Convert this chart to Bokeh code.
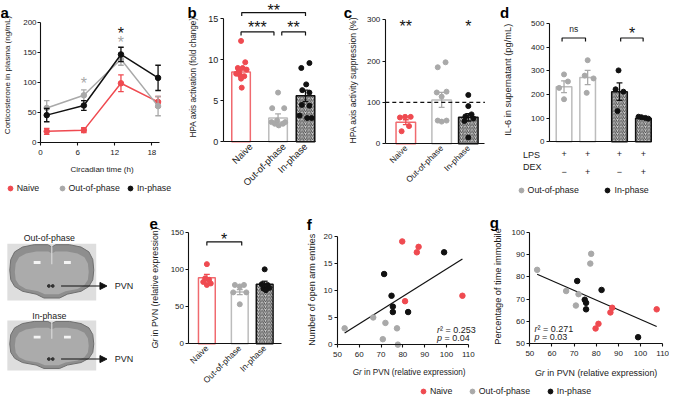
import math
import numpy as np
from bokeh.plotting import figure
from bokeh.models import (Range1d, FixedTicker, Label, Legend, LegendItem, Arrow,
                          NormalHead, LinearAxis)
from bokeh.layouts import row, column
from bokeh.embed import file_html
from bokeh.resources import INLINE
from bokeh.core.properties import value

# ======================= data =======================
groups = ["Naive", "Out-of-phase", "In-phase"]

# (a) plasma corticosterone over circadian time (mean, SEM)
ct_hours = [1, 7, 13, 19]
ct_ticks = [0, 6, 12, 18]
cort_ticks = [0, 50, 100, 150, 200]
cort_naive_mean = [19, 21, 99, 68]
cort_naive_sem = [5, 4, 14, 9]
cort_out_mean = [58, 79, 139, 61]
cort_out_sem = [12, 9, 10, 16]
cort_in_mean = [46, 62, 147, 108]
cort_in_sem = [11, 8, 12, 21]

# (b) HPA axis activation (fold change)
act_ticks = [0, 5, 10, 15]
act_mean = [8.5, 2.9, 5.6]
act_sem = [0.45, 0.5, 0.7]
act_naive = [12.3, 9.7, 9.0, 9.0, 8.8, 8.6, 8.3, 8.1, 8.0, 7.7, 6.6]
act_out = [6.0, 4.1, 4.1, 2.6, 2.4, 2.2, 2.0, 2.2, 2.4]
act_in = [9.6, 9.0, 7.0, 6.3, 6.0, 4.5, 4.4, 3.2, 2.9, 2.9]
# horizontal scatter of the dots around each bar (px)
act_naive_jit = [0, 4.3, -3.3, 1.7, 5.7, -2.3, -5, -1, 3.3, 0, 0.7]
act_out_jit = [0, -6, 6.3, -1, -6.7, -3.3, 0.7, 5, 7.3]
act_in_jit = [4, -4.3, 0.7, -3.3, 4, -3.7, 4, -6, 1.7, 6.3]

# (c) HPA axis activity suppression (%)
sup_ticks = [0, 100, 200, 300]
sup_ref = 100
sup_mean = [52, 106, 64]
sup_sem = [6, 18, 9]
sup_naive = [63.5, 65, 65, 42.6, 30.2]
sup_out = [185, 197, 124, 126, 114, 56, 56, 53.5]
sup_in = [118, 91, 71, 66, 61, 55, 15]
sup_naive_jit = [-6, -0.7, 5, 3.3, -4.3]
sup_out_jit = [-4, 4, -5, 5, 0, -4, 5, 0]
sup_in_jit = [0, 0, 3.3, -3, 5.3, -4, 0]

# (d) IL-6 in supernatant (pg/mL)
il6_ticks = [0, 100, 200, 300, 400, 500]
il6_group = ["Out-of-phase", "Out-of-phase", "In-phase", "In-phase"]
il6_lps = ["+", "+", "+", "+"]
il6_dex = ["\u2212", "+", "\u2212", "+"]
il6_mean = [233, 272, 212, 100]
il6_sem = [25, 30, 37, 3]
il6_points = [[285, 255, 228, 180], [345, 280, 268, 207],
              [302, 222, 212, 130], [106, 104, 101, 98]]
il6_jit = [[0, 4, -5, 0], [0, -3, 6, -1], [-1, -4, 4, -2], [-5, -2, 2, 5]]

# (e) Gr in PVN (relative expression)
gr_ticks = [0, 50, 100, 150]
gr_mean = [88.8, 69.4, 80]
gr_sem = [4.5, 3.5, 4]
gr_naive = [107, 88, 86, 83, 81, 79]
gr_out = [79, 79, 77, 69, 69, 53]
gr_in = [100, 80, 79, 75, 74, 72]
gr_naive_jit = [0, -1.7, 2.3, -3.7, 4, 0]
gr_out_jit = [-5, 4.3, 0, -6.7, 6.7, 0]
gr_in_jit = [0, -3, 3, 4.7, -1.3, 1.3]

# (f, g) per-animal Gr expression vs behaviour
gr_pvn_naive = [79.7, 81.0, 86.4, 87.2, 107.3]
gr_pvn_out = [53.3, 66.4, 70.8, 72.0, 77.3, 77.7]
gr_pvn_in = [71.4, 74.8, 75.4, 75.4, 82.4, 98.9]
open_arm_naive = [19, 8, 17, 18, 9]
open_arm_out = [3, 5, 1, 4, 3, 0]
open_arm_in = [13, 9, 7, 6, 6, 17]
immobile_naive = [56.8, 58.9, 64.0, 66.1, 65.4]
immobile_out = [83.1, 73.6, 67.1, 72.2, 85.9, 90.3]
immobile_in = [78.1, 69.7, 68.3, 65.4, 74.1, 52.9]
gr_x_ticks = [50, 60, 70, 80, 90, 100, 110]
open_arm_ticks = [0, 5, 10, 15, 20]
immobile_ticks = [50, 60, 70, 80, 90, 100]
f_r2, f_p = "0.253", "0.04"
g_r2, g_p = "0.271", "0.03"

# ======================= style =======================
FONT = "Liberation Sans"
TXT = "#1a1a1a"
RED = "#ef4a50"
RED_BAR = "#f06a6f"
GRAY = "#a9a9a9"
GRAY_BAR = "#bcbcbc"
BLACK = "#111111"
HATCH_FILL = "#cfcfcf"
HATCH_COL = "#262626"
GROUP_DOT = [RED, GRAY, BLACK]
GROUP_LINE = [RED_BAR, GRAY_BAR, BLACK]

SX = 669 / 685
SY = 397 / 413


def X(v):
    return int(round(v * SX))


def Y(v):
    return int(round(v * SY))


def _lin(La, da, Lb, db):
    return lambda L: da + (L - La) * (db - da) / (Lb - La)


class Panel:
    """A figure whose plotting area covers its whole canvas; the axes sit at
    fixed data locations, so texts outside the axes stay inside the frame."""

    def __init__(self, box, xmap, ymap, axes=True, tick_size=8):
        x0, y0, x1, y1 = box
        self.x0, self.y0 = x0, y0
        self.W = X(x1) - X(x0)
        self.H = Y(y1) - Y(y0)
        (ra, da), (rb, db) = xmap
        fx = _lin(ra * SX - X(x0), da, rb * SX - X(x0), db)
        (ra, da), (rb, db) = ymap
        fy = _lin(ra * SY - Y(y0), da, rb * SY - Y(y0), db)
        extra = {} if axes else dict(x_axis_location=None, y_axis_location=None)
        self.p = figure(width=self.W, height=self.H,
                        x_range=Range1d(fx(0), fx(self.W)),
                        y_range=Range1d(fy(self.H), fy(0)),
                        output_backend="svg", toolbar_location=None, title=None,
                        min_border=0, **extra)
        p = self.p
        p.grid.visible = False
        p.outline_line_color = None
        p.border_fill_color = "white"
        p.background_fill_color = "white"
        if axes:
            for ax in p.axis:
                ax.axis_line_color = BLACK
                ax.axis_line_width = 1.1
                ax.major_tick_line_color = BLACK
                ax.major_tick_line_width = 1.1
                ax.major_tick_out = 3
                ax.major_tick_in = 0
                ax.minor_tick_line_color = None
                ax.major_label_text_font = FONT
                ax.major_label_text_font_size = f"{tick_size}px"
                ax.major_label_text_color = TXT
                ax.major_label_standoff = 2

    def axes_at(self, x_at, y_at, xb, yb, xticks=None, yticks=None):
        p = self.p
        p.yaxis.fixed_location = x_at
        p.xaxis.fixed_location = y_at
        p.xaxis.bounds = xb
        p.yaxis.bounds = yb
        if xticks is not None:
            p.xaxis.ticker = FixedTicker(ticks=xticks)
        if yticks is not None:
            p.yaxis.ticker = FixedTicker(ticks=yticks)

    def sx(self, xr):
        return xr * SX - X(self.x0)

    def sy(self, yr):
        return self.H - (yr * SY - Y(self.y0))

    def text(self, xr, yr, txt, size=8.5, align="left", baseline="middle",
             angle=0.0, style="normal", color=TXT, dx=0.0, dy=0.0):
        self.p.add_layout(Label(x=self.sx(xr) + dx, y=self.sy(yr) + dy,
                                x_units="screen", y_units="screen", text=txt,
                                text_font=FONT, text_font_size=f"{size}px",
                                text_font_style=style, text_align=align,
                                text_baseline=baseline, angle=angle,
                                text_color=color))

    def letter(self, t, xr, yr):
        self.text(xr, yr, t, size=15, baseline="alphabetic", style="bold", color="black")

    def ylabel(self, txt, cx, cy, size):
        self.text(cx, cy, txt, size=size, align="center", angle=math.pi / 2)

    def xlabel(self, txt, cx, cy, size):
        self.text(cx, cy, txt, size=size, align="center")

    def gr_label(self, cx, cy, size, vertical=False):
        total = 13.781 * size
        shift = 1.389 * size
        parts = (("Gr", 0, "italic"), ("in PVN (relative expression)", shift, "normal"))
        for txt, off, st in parts:
            if vertical:
                lab = Label(x=self.sx(cx), y=self.sy(cy) - total / 2 + off,
                            angle=math.pi / 2)
            else:
                lab = Label(x=self.sx(cx) - total / 2 + off, y=self.sy(cy))
            lab.update(x_units="screen", y_units="screen", text=txt, text_font=FONT,
                       text_font_size=f"{size}px", text_font_style=st,
                       text_align="left", text_baseline="middle", text_color=TXT)
            self.p.add_layout(lab)

    def stats(self, xr, yr1, yr2, r2, pv, size=9):
        self.text(xr, yr1, "r", size=size, style="italic")
        self.text(xr, yr1, "\u00b2 = " + r2, size=size, dx=0.333 * size)
        self.text(xr, yr2, "p", size=size, style="italic")
        self.text(xr, yr2, "= " + pv, size=size, dx=0.834 * size)

    def star(self, x, y, txt, color=BLACK, size=16):
        self.p.add_layout(Label(x=x, y=y, text=txt, text_font=FONT,
                                text_font_size=f"{size}px", text_align="center",
                                text_baseline="middle", text_color=color,
                                y_offset=-0.25 * size))

    def legend(self, label, renderer, cx, cy, size=8.8):
        lg = Legend(items=[LegendItem(label=label, renderers=[renderer])],
                    location=(self.sx(cx) - 6, self.sy(cy) - 6),
                    orientation="horizontal", glyph_width=12, glyph_height=12,
                    label_height=12, label_width=0, label_standoff=1,
                    padding=0, margin=0, spacing=0, border_line_color=None,
                    background_fill_alpha=0, label_text_font=FONT,
                    label_text_font_size=f"{size}px", label_text_color=TXT)
        self.p.add_layout(lg)


def cat_axis(p, label_at, names, size=8.5):
    ax = p.xaxis[0]
    ax.ticker = FixedTicker(ticks=label_at)
    ax.major_label_overrides = {c: n for c, n in zip(label_at, names)}
    ax.major_label_orientation = math.pi / 4
    ax.major_tick_line_color = None
    ax.major_tick_out = 0
    ax.major_label_standoff = 3
    ax.major_label_text_font_size = f"{size}px"


def bars(P, centers, width, means, sems, pts, jits, line_cols, dot_cols, hatched, cap=0.3):
    p = P.p
    for c, m, lc, h in zip(centers, means, line_cols, hatched):
        if h:
            kw = dict(fill_color=HATCH_FILL, hatch_pattern="right_diagonal_line",
                      hatch_color=HATCH_COL, hatch_scale=3.5, hatch_weight=0.8)
        else:
            kw = dict(fill_color="white")
        p.vbar(x=[c], top=[m], bottom=0, width=width, line_color=lc, line_width=1.5, **kw)
    rends = []
    for c, vals, jit, dc in zip(centers, pts, jits, dot_cols):
        rends.append(p.scatter([c + j / 10 for j in jit], vals, size=5, color=dc, line_color=dc))
    for c, m, s, dc in zip(centers, means, sems, dot_cols):
        p.segment([c], [m - s], [c], [m + s], line_color=dc, line_width=1.3)
        p.segment([c - cap, c - cap], [m + s, m - s], [c + cap, c + cap], [m + s, m - s],
                  line_color=dc, line_width=1.3)
    return rends


def bracket(p, x0, x1, y, leg):
    p.multi_line(xs=[[x0, x0, x1, x1]], ys=[[y - leg, y, y, y - leg]],
                 line_color=BLACK, line_width=1.2)


# ======================= (a) =======================
A = Panel((0, 0, 190, 212), ((41, 0), (155, 18)), ((148, 0), (23, 200)))
A.axes_at(0, 0, (0, 19.3), (0, 200), ct_ticks, cort_ticks)
p = A.p
p.xaxis.major_label_standoff = 4
p.yaxis.major_label_standoff = 1
a_rends = []
for mean, sem, col in ((cort_naive_mean, cort_naive_sem, RED),
                       (cort_out_mean, cort_out_sem, GRAY),
                       (cort_in_mean, cort_in_sem, BLACK)):
    lo = [m - s for m, s in zip(mean, sem)]
    hi = [m + s for m, s in zip(mean, sem)]
    xl = [t - 0.45 for t in ct_hours]
    xr_ = [t + 0.45 for t in ct_hours]
    p.segment(ct_hours, lo, ct_hours, hi, line_color=col, line_width=1.3)
    p.segment(xl, hi, xr_, hi, line_color=col, line_width=1.3)
    p.segment(xl, lo, xr_, lo, line_color=col, line_width=1.3)
    p.line(ct_hours, mean, line_color=col, line_width=1.5)
    a_rends.append(p.scatter(ct_hours, mean, size=5.5, color=col))
A.star(7, 106, "*", GRAY)
A.star(13, 173, "*", GRAY)
A.star(13, 189, "*", BLACK)
A.ylabel("Corticosterone in plasma (ng/mL)", 7.5, 77.5, 8)
A.xlabel("Circadian time (h)", 104, 175.5, 8)
A.letter("a", 0, 12.5)
A.legend(groups[0], a_rends[0], 10, 196)
A.legend(groups[1], a_rends[1], 63, 196)
A.legend(groups[2], a_rends[2], 133, 196)

# ======================= (b) =======================
B = Panel((190, 0, 350, 212), ((228, 0), (323, 9.5)), ((147, 0), (19, 15)), tick_size=9)
B.axes_at(0, 0, (0, 9.5), (0, 15), None, act_ticks)
p = B.p
b_centers = [1.83, 5.62, 8.43]
b_label_shift = [1.0, 0.6, 0.0]
cat_axis(p, [c + s for c, s in zip(b_centers, b_label_shift)], groups, size=9.5)
bars(B, b_centers, 1.9, act_mean, act_sem, [act_naive, act_out, act_in],
     [act_naive_jit, act_out_jit, act_in_jit], GROUP_LINE, GROUP_DOT, [False, False, True])
bracket(p, 1.83, 5.2, 13.4, 0.45)
bracket(p, 6.0, 8.43, 13.4, 0.45)
bracket(p, 1.9, 8.43, 15.75, 0.4)
B.star(3.5, 14.4, "***")
B.star(7.2, 14.4, "**")
B.star(5.17, 16.5, "**")
B.ylabel("HPA axis activation (fold change)", 198, 80, 8.2)
B.letter("b", 191.5, 13)

# ======================= (c) =======================
C = Panel((350, 0, 510, 212), ((394, 0), (496, 10.2)), ((149, 0), (20, 300)))
c_xend = 10.2
C.axes_at(0, 0, (0, c_xend), (0, 300), None, sup_ticks)
p = C.p
c_centers = [2.1, 5.77, 8.5]
cat_axis(p, c_centers, groups, size=8.3)
bars(C, c_centers, 2.0, sup_mean, sup_sem, [sup_naive, sup_out, sup_in],
     [sup_naive_jit, sup_out_jit, sup_in_jit], GROUP_LINE, GROUP_DOT, [False, False, True])
p.line([0, c_xend], [sup_ref, sup_ref], line_color=BLACK, line_width=1.4, line_dash="4 3")
C.star(2.1, 294, "**")
C.star(8.5, 294, "*")
C.ylabel("HPA axis activity suppression (%)", 361, 83, 8.5)
C.letter("c", 351.5, 12.7)

# ======================= (d) =======================
D = Panel((510, 0, 685, 212), ((562, 0), (667, 10.5)), ((147, 0), (24, 500)))
D.axes_at(0, 0, (0, 10.5), (0, 500), None, il6_ticks)
p = D.p
d_centers = [1.5, 3.92, 7.18, 9.63]
ax = p.xaxis[0]
ax.ticker = FixedTicker(ticks=d_centers)
ax.major_label_overrides = {c: t for c, t in zip(d_centers, il6_lps)}
ax.major_tick_line_color = None
ax.major_tick_out = 0
ax.major_label_standoff = 9
ax.major_label_text_font_size = "9px"
ax2 = LinearAxis(ticker=FixedTicker(ticks=d_centers), fixed_location=0, bounds=(0, 10.5),
                 major_label_overrides={c: t for c, t in zip(d_centers, il6_dex)},
                 axis_line_color=None, major_tick_line_color=None,
                 minor_tick_line_color=None, major_label_standoff=21,
                 major_label_text_font=FONT, major_label_text_font_size="9px",
                 major_label_text_color=TXT)
p.add_layout(ax2, "below")
d_line = [GRAY_BAR if g == "Out-of-phase" else BLACK for g in il6_group]
d_dot = [GRAY if g == "Out-of-phase" else BLACK for g in il6_group]
d_rends = bars(D, d_centers, 1.6, il6_mean, il6_sem, il6_points, il6_jit, d_line, d_dot,
               [g == "In-phase" for g in il6_group], cap=0.3)
bracket(p, 1.3, 3.7, 439, 15)
bracket(p, 7.3, 9.6, 439, 15)
D.p.add_layout(Label(x=2.5, y=478, text="ns", text_font=FONT, text_font_size="8.5px",
                     text_align="center", text_baseline="middle", text_color=TXT))
D.star(8.47, 473, "*")
D.ylabel("IL-6 in supernatant (pg/mL)", 519.5, 82.5, 9.3)
D.text(535, 161, "LPS", size=9)
D.text(535, 173, "DEX", size=9)
D.letter("d", 511.5, 12.7)
D.legend(groups[1], d_rends[0], 533, 198)
D.legend(groups[2], d_rends[2], 622, 198)

# ======================= brain sections =======================
BR = Panel((0, 212, 150, 413), ((0, 0), (150, 150)), ((212, 212), (413, 413)), axes=False)
p = BR.p
section_dx = [-43, -42, -38, -30, -18, -4, 0, 4, 18, 30, 38, 42, 43, 42, 38, 30, 16, 8, -8, -16, -30, -38, -42]
section_dy = [-2, -13, -21, -26, -28.5, -28.5, -26, -28.5, -28.5, -26, -21, -13, -2, 8, 15, 20, 23, 27, 27, 23, 20, 15, 8]
for title, cx, cy, h, ty, ay in (("Out-of-phase", 52.5, 282.5, 59, 247, 297),
                                 ("In-phase", 52.5, 359, 52, 328, 373)):
    k = h / 59.0
    p.rect(x=[cx], y=[cy], width=91, height=h, fill_color="#dedede", line_color=None)
    p.patch([cx + d for d in section_dx], [cy + d * k for d in section_dy],
            fill_color="#8e8e8e", line_color="#6f6f6f", line_width=1)
    p.patch([cx + d * 0.88 for d in section_dx], [cy + 1.5 + d * k * 0.8 for d in section_dy],
            fill_color="#ababab", line_color=None)
    p.line([cx, cx], [cy - 27 * k, cy - 8 * k], line_color="#d8d8d8", line_width=1.2)
    p.rect(x=[cx - 15, cx + 16], y=[cy - 10 * k, cy - 10 * k], width=7, height=3,
           fill_color="#f4f4f4", line_color=None)
    p.scatter([cx - 3, cx + 1], [ay, ay], size=2.8, color="#333333")
    p.text(x=[50], y=[ty], text=[title], text_align="center", text_baseline="middle",
           text_font=value(FONT), text_font_size="8.8px", text_color=TXT)
    p.add_layout(Arrow(end=NormalHead(size=7, fill_color=BLACK, line_color=BLACK),
                       x_start=62, y_start=ay, x_end=109, y_end=ay,
                       line_color=BLACK, line_width=1.1))
    p.text(x=[117], y=[ay], text=["PVN"], text_align="left", text_baseline="middle",
           text_font=value(FONT), text_font_size="9px", text_color=TXT)

# ======================= (e) =======================
E = Panel((150, 212, 310, 413), ((193, 0), (288, 9.5)), ((357, 0), (241, 150)))
E.axes_at(0, 0, (0, 9.5), (0, 150), None, gr_ticks)
p = E.p
e_centers = [1.83, 5.2, 7.75]
cat_axis(p, e_centers, groups)
bars(E, e_centers, 1.72, gr_mean, gr_sem, [gr_naive, gr_out, gr_in],
     [gr_naive_jit, gr_out_jit, gr_in_jit], GROUP_LINE, GROUP_DOT, [False, False, True])
bracket(p, 1.83, 5.4, 137, 5)
E.star(3.6, 146, "*")
E.gr_label(158, 299, 8.8, vertical=True)
E.letter("e", 152.5, 233)

# ======================= (f) =======================
F = Panel((310, 212, 500, 400), ((345, 50), (479, 110)), ((358, 0), (245, 20)))
F.axes_at(50, 0, (50, 110), (0, 20), gr_x_ticks, open_arm_ticks)
p = F.p
p.xaxis.major_label_standoff = 4
all_x = gr_pvn_naive + gr_pvn_out + gr_pvn_in
fy = open_arm_naive + open_arm_out + open_arm_in
sl, ic = np.polyfit(all_x, fy, 1)
lx = [min(all_x), max(all_x)]
p.line(lx, [sl * v + ic for v in lx], line_color=BLACK, line_width=1.2)
for xs, ys, col in ((gr_pvn_naive, open_arm_naive, RED), (gr_pvn_out, open_arm_out, GRAY),
                    (gr_pvn_in, open_arm_in, BLACK)):
    p.scatter(xs, ys, size=5.5, color=col)
F.stats(447, 342.3, 351, f_r2, f_p)
F.ylabel("Number of open arm entries", 319, 301, 9)
F.gr_label(418.5, 387, 8.2)
F.letter("f", 313.5, 233)

# ======================= (g) =======================
G = Panel((500, 212, 685, 400), ((542, 50), (678, 110)), ((357, 50), (241, 100)))
G.axes_at(50, 50, (50, 110), (50, 100), gr_x_ticks, immobile_ticks)
p = G.p
p.xaxis.major_label_standoff = 4
gy = immobile_naive + immobile_out + immobile_in
sl, ic = np.polyfit(all_x, gy, 1)
p.line(lx, [sl * v + ic for v in lx], line_color=BLACK, line_width=1.2)
for xs, ys, col in ((gr_pvn_naive, immobile_naive, RED), (gr_pvn_out, immobile_out, GRAY),
                    (gr_pvn_in, immobile_in, BLACK)):
    p.scatter(xs, ys, size=5.5, color=col)
G.stats(546.7, 341.7, 350.3, g_r2, g_p)
G.ylabel("Percentage of time immobile", 509, 297.5, 9.2)
G.gr_label(610, 387, 8.9)
G.letter("g", 501, 231)

# ======================= bottom legend =======================
LG = Panel((310, 400, 685, 413), ((310, 0), (685, 1)), ((413, 0), (400, 1)), axes=False)
for name, col, cx in zip(groups, GROUP_DOT, (433, 483, 563)):
    r = LG.p.scatter(x=[-5], y=[-5], size=5, color=col)
    LG.legend(name, r, cx, 407)

layout = column(row(A.p, B.p, C.p, D.p),
                row(BR.p, E.p, column(row(F.p, G.p), LG.p)))

with open("out.html", "w", encoding="utf-8") as fh:
    fh.write(file_html(layout, INLINE, title="HPA axis and Gr in PVN"))
